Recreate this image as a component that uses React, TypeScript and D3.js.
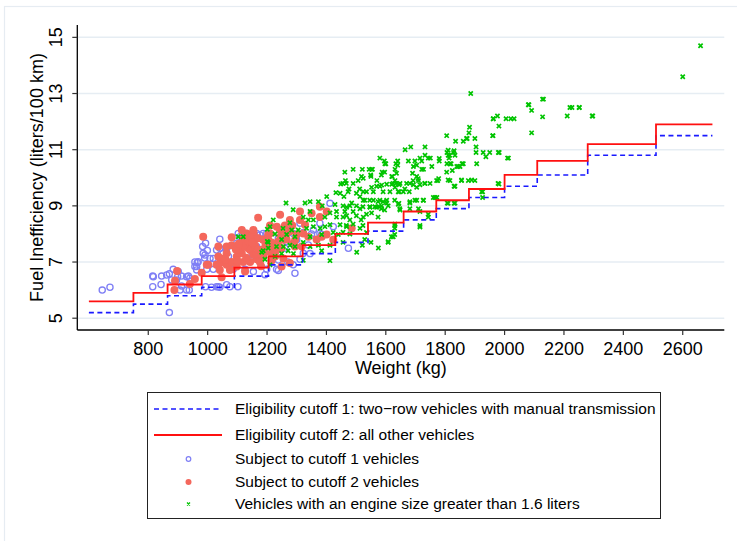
import React from "react";
import * as d3 from "d3";

const xTicks = [800, 1000, 1200, 1400, 1600, 1800, 2000, 2200, 2400, 2600];
const yTicks = [5, 7, 9, 11, 13, 15];

const weightBreaks = [600, 750, 865, 980, 1090, 1205, 1320, 1430, 1540, 1660, 1770, 1880, 2000, 2110, 2280, 2510, 2700];
const cutoff1 = [5.2, 5.5, 5.8, 6.1, 6.5, 6.9, 7.3, 7.7, 8.1, 8.5, 8.9, 9.3, 9.7, 10.1, 10.8, 11.5];
const cutoff2 = [5.6, 5.9, 6.2, 6.5, 6.8, 7.2, 7.6, 8.0, 8.4, 8.8, 9.2, 9.6, 10.1, 10.6, 11.2, 11.9];

const subjectCutoff1: [number, number][] = [
  [645,6.0],[671,6.1],[871,5.2],[815,6.5],[845,6.5],[815,6.12],[843,6.2],[871,6.58],[884,6.74],[895,6.36],[912,6.5],[935,6.5],[938,6.0],[907,6.0],[963,6.84],[965,6.98],[983,7.55],[993,7.67],[999,7.41],[990,7.14],[997,6.74],[993,6.12],[1019,7.13],[1019,6.74],[1036,6.12],[1041,7.49],[1041,7.81],[1052,7.3],[1064,7.49],[1069,6.96],[1086,6.74],[1102,6.12],[1098,7.67],[1103,8.02],[1131,8.02],[1126,6.74],[1154,6.66],[1187,8.02],[1199,7.79],[1165,7.55],[1238,6.7],[1260,7.49],[1288,6.9],[1294,6.6],[1288,8.02],[1339,7.61],[1378,8.02],[1423,8.26],[1412,9.09],[1474,7.49],
  [862,6.54],[879,6.36],[901,6.66],[940,6.42],[985,7.31],[1008,7.13],[968,7.01],[963,6.72],[1030,7.43],[1070,7.2],[1115,7.55],[1109,7.9],[1148,7.96],[1165,8.02],[1176,7.96],[1075,6.12],[1041,6.1],[1013,6.1],
  [1156,8.02],[1322,8.05],[1350,8.0],[1384,7.98],[1221,7.28],[1311,7.1],[1345,7.3],[1232,6.74],[1199,6.74],[1193,6.55],
  [957,7.0],[991,7.25],[1064,7.5],[1131,7.79],[1199,8.02],[1238,7.07],[1322,7.31],[1030,6.12],[1064,6.19],[929,6.0],[929,6.48],[957,6.84],[899,6.48],[912,6.15],
  [1238,7.85],[1266,7.73],[1300,7.79],[1277,8.32],[1311,8.38],[1356,8.14],[1378,8.38],[817,6.48],[1270,7.0],[1150,7.25],[1200,7.4]
];

const subjectCutoff2: [number, number][] = [
  [897,6.68],[890,6.33],[888,6.0],[940,6.22],[957,6.4],[980,6.62],[1002,6.9],[985,7.9],[1036,7.55],[1041,6.96],[1081,7.88],[1120,7.85],[1064,7.31],[1075,6.96],[1115,7.31],[1120,7.79],[1137,7.49],[1154,8.02],[1170,8.58],[1165,7.1],[1182,7.43],[1199,7.55],[1210,8.02],[1216,7.31],[1233,8.26],[1244,8.68],[1255,7.79],[1266,8.02],[1277,8.5],[1294,7.55],[1311,8.8],[1322,8.02],[1350,8.74],[1378,8.97],[1401,8.8],[1384,7.9],[1423,7.79],
  [1053,7.13],[1036,7.2],[1030,6.9],[1041,6.72],[1064,6.9],[1081,7.0],[1098,7.2],[1109,7.43],[1126,7.55],[1137,7.73],[1143,7.43],[1159,7.55],[1154,7.26],[1120,7.0],[1098,6.84],[1075,6.72],[1047,6.46],[997,6.9],[1176,7.43],[1187,7.2],[1176,7.0],[1143,7.0],[1126,6.66],[1204,7.79],[1187,7.79],[1165,7.85],[1115,8.14],[1131,8.02],[1154,8.08],[1064,7.55],[1081,7.6],[1143,7.9],
  [1154,8.14],[1170,7.85],[1159,7.6],[1187,7.8],[1204,7.98],[1165,7.3],[1193,7.35],[1221,7.55],[1238,7.73],[1266,7.8],[1249,7.5],[1227,7.2],[1255,7.13],[1289,7.67],[1300,7.98],[1277,8.1],[1244,8.14],[1210,8.3],[1311,8.5],[1328,8.33],[1339,7.9],[1317,7.55],[1249,6.84],[1277,6.97],[1367,7.8],[1401,7.98],[1485,8.2],[1378,8.6],
  [1095,7.45],[1105,7.65],[1130,7.15],[1150,7.7],[1170,7.45],[1195,7.6],[1215,7.7],[1230,7.4],[1245,7.9],[1260,8.3],[1285,8.3],[1295,7.8],[1215,7.05],[1180,6.85],[1100,7.05],[1060,7.1]
];

const largeEngine: [number, number][] = [
  [2660,14.7],[2600,13.6],[1886,13.0],[2128,12.8],[2082,12.6],[2091,12.4],[2220,12.5],[2227,12.5],[2251,12.5],[2128,12.17],[2211,12.2],[2297,12.2],[2005,12.1],[2021,12.1],[2032,12.1],[1976,12.2],[1962,12.1],[1981,11.84],[2091,11.6],[1882,11.8],[1880,11.6],[1872,11.4],[1900,11.4],[1861,11.3],[1961,11.5],[1835,11.3],[1805,11.5],[1904,11.1],[1904,10.9],[1928,10.9],[1950,10.9],[1979,10.9],[1937,10.75],[2010,10.7],[1830,10.96],[1833,10.8],[1810,10.98],[1810,10.8],[1813,10.7],[1780,10.69],[1780,10.6],[1755,10.4],[1732,11.1],[1732,10.8],[1743,10.7],[1750,10.7],[1715,10.7],[1721,10.6],[1727,10.3],[1721,10.3],[1698,10.6],[1704,10.45],[1684,11.1],[1665,11.0],[1676,10.6],[1693,10.4],[1690,10.16],[1704,10.05],[1634,10.5],[1631,10.3],[1636,10.16],[1622,10.04],[1600,10.5],[1595,10.6],[1580,10.7],[1585,10.1],[1596,10.2],[1544,10.3],[1555,10.3],[1550,10.05],[1518,10.05],[1570,9.9],[1569,9.7],[1580,9.7],[1558,9.5],[1535,9.5],[1591,9.5],[1614,9.5],[1625,9.8],[1634,9.8],[1645,9.75],[1645,9.5],[1659,9.5],[1670,9.8],[1681,9.8],[1679,9.5],[1693,9.75],[1710,9.9],[1715,9.75],[1732,9.8],[1749,9.8],[1775,9.9],[1766,9.3],[1727,9.2],[1698,9.2],[1681,9.1],[1644,9.09],[1647,8.9],[1630,9.2],[1603,9.2],[1603,9.1],[1580,9.2],[1563,8.97],[1546,8.97],[1546,9.2],[1529,9.2],[1523,8.97],[1535,8.7],[1577,8.97],[1585,8.9],[1596,8.85],[1517,8.5],[1523,8.3],[1535,8.05],[1529,7.8],[1521,7.6],[1550,7.7],[1575,7.5],[1630,8.3],[1630,8.2],[1630,7.98],[1619,7.9],[1608,7.7],[1710,8.9],[1715,8.3],[1743,8.7],[1772,9.3],[1807,9.1],[1833,9.1],[1833,9.7],[1855,9.9],[1878,9.9],[1900,9.9],[1923,9.5],[1926,9.3],[1978,9.8],[1816,10.5],[1850,10.4],[1839,10.4],[1861,10.5],[1805,10.2],[1816,9.9],
  [1597,10.5],[1462,10.2],[1490,10.3],[1521,10.3],[1552,10.3],[1549,10.1],[1524,9.98],[1507,9.9],[1588,10.2],[1620,10.05],[1640,10.6],[1640,10.45],[1455,9.8],[1467,9.8],[1476,9.6],[1490,9.8],[1459,9.33],[1473,9.5],[1501,9.45],[1512,9.6],[1524,9.5],[1552,9.66],[1586,9.74],[1603,9.77],[1620,9.77],[1631,9.9],[1631,9.66],[1648,9.8],[1642,9.5],[1664,9.6],[1692,9.9],[1709,9.97],[1704,9.66],[1731,9.8],[1513,9.33],[1524,9.2],[1558,9.2],[1574,9.15],[1591,9.15],[1501,9.0],[1479,9.0],[1456,9.0],[1462,8.8],[1490,8.8],[1513,8.9],[1547,8.95],[1569,8.95],[1586,9.0],[1608,9.0],[1642,9.06],[1681,9.15],[1704,9.2],[1726,9.2],[1760,9.3],[1771,9.9],[1778,9.97],[1648,8.85],[1681,8.9],[1715,8.8],[1456,8.6],[1479,8.5],[1501,8.65],[1524,8.6],[1467,8.3],[1490,8.35],[1513,8.2],[1456,8.06],[1574,8.6],[1552,8.75],[1743,8.6],[1715,8.25],[1631,8.35],[1608,7.72],[1625,7.9],[1456,7.7],
  [1448,9.78],[1464,9.9],[1432,9.47],[1446,9.45],[1401,9.33],[1373,9.15],[1345,9.15],[1328,9.1],[1264,9.1],[1288,8.86],[1345,8.8],[1386,9.0],[1429,9.05],[1434,8.8],[1468,8.95],[1485,9.1],[1412,8.75],[1395,8.6],[1434,8.6],[1468,8.65],[1221,8.5],[1277,8.4],[1322,8.6],[1339,8.5],[1356,8.5],[1210,8.26],[1227,8.0],[1254,8.2],[1266,7.98],[1283,8.14],[1305,8.14],[1333,8.2],[1356,8.26],[1379,8.2],[1395,8.26],[1412,8.33],[1446,8.33],[1468,8.26],[1479,8.0],[1423,8.05],[1384,7.98],[1440,7.98],[1345,7.9],[1294,7.9],[1249,7.8],[1204,7.7],[1204,7.5],[1232,7.55],[1255,7.55],[1277,7.6],[1294,7.55],[1322,7.7],[1345,7.55],[1373,7.6],[1384,7.4],[1412,7.6],[1289,7.3],[1249,7.3],[1271,7.4],[1182,7.35],[1193,7.1],[1227,7.2],[1322,7.06],[1412,7.05],[1502,7.35],[1210,6.9],
  [1103,7.9],[1120,7.9],[1201,8.17],[1201,7.73],[1187,7.4],
  [1982,10.9],[2013,10.7],[1981,9.78],[1926,9.5],[1855,9.92],[1889,9.92],[1830,9.7],[1810,9.92],[1810,9.09],[1830,9.09],[1906,10.5],[1844,10.4],[1857,10.5],[1824,10.26],[1806,10.5],[1820,10.5],[1806,10.9],[1828,10.9],[1815,10.8],[2080,12.6],[2252,12.5],[2295,12.2],[2131,12.8],[1962,12.1],[1960,11.5],[1874,11.4]
];

const legendLabels = [
  "Eligibility cutoff 1: two\u2212row vehicles with manual transmission",
  "Eligibility cutoff 2: all other vehicles",
  "Subject to cutoff 1 vehicles",
  "Subject to cutoff 2 vehicles",
  "Vehicles with an engine size greater than 1.6 liters",
];

const FONT = "'Liberation Sans', Arial, Helvetica, sans-serif";
const BLUE_LINE = "#1a1aff";
const RED_LINE = "#ff1010";
const BLUE_PT = "#7f7ff5";
const RED_PT = "#f4675c";
const GREEN_PT = "#00c400";

export default function App() {
  const W = 737, H = 541;
  const x = d3.scaleLinear().domain([561, 2740]).range([77.3, 724.3]);
  const y = d3.scaleLinear().domain([4.58, 15.44]).range([330, 25]);
  const [x0, x1] = x.range();
  const [yb, yt] = y.range();

  const stepLine = d3.line<[number, number]>()
    .x(d => x(d[0]))
    .y(d => y(d[1]))
    .curve(d3.curveStepAfter);
  const mk = (vals: number[]) => {
    const pts: [number, number][] = vals.map((v, i) => [weightBreaks[i], v]);
    pts.push([weightBreaks[weightBreaks.length - 1], vals[vals.length - 1]]);
    return stepLine(pts) || "";
  };

  const cross = "M-2.1,-2.1L2.1,2.1M-2.1,2.1L2.1,-2.1";
  const legRows = [409, 435, 459, 482, 504];

  return (
    <svg width={W} height={H} style={{ position: "absolute", left: 0, top: 0, background: "#fff" }} fontFamily={FONT}>
      <rect x={4.5} y={6.5} width={740} height={540} fill="#fff" stroke="#e6ecf2" strokeWidth={1.2} />
      {yTicks.map(t => (
        <line key={"g" + t} x1={x0} x2={x1} y1={y(t)} y2={y(t)} stroke="#e6edf3" strokeWidth={1.5} />
      ))}
      <g>
        {subjectCutoff1.map((d, i) => (
          <circle key={"b" + i} cx={x(d[0])} cy={y(d[1])} r={3.1} fill="none" stroke={BLUE_PT} strokeWidth={1.3} />
        ))}
      </g>
      <g>
        {subjectCutoff2.map((d, i) => (
          <circle key={"r" + i} cx={x(d[0])} cy={y(d[1])} r={4} fill={RED_PT} />
        ))}
      </g>
      <g>
        {largeEngine.map((d, i) => (
          <path key={"x" + i} d={cross} transform={`translate(${x(d[0])},${y(d[1])})`} stroke={GREEN_PT} strokeWidth={1.7} fill="none" />
        ))}
      </g>
      <path d={mk(cutoff1)} fill="none" stroke={BLUE_LINE} strokeWidth={1.6} strokeDasharray="5,3.5" />
      <path d={mk(cutoff2)} fill="none" stroke={RED_LINE} strokeWidth={1.8} />
      <line x1={x0} x2={x0} y1={yt} y2={yb} stroke="#000" strokeWidth={1.3} />
      <line x1={x0} x2={x1} y1={yb} y2={yb} stroke="#000" strokeWidth={1.3} />
      {yTicks.map(t => (
        <g key={"yt" + t}>
          <line x1={x0 - 5} x2={x0} y1={y(t)} y2={y(t)} stroke="#333" strokeWidth={1.2} />
          <text transform={`translate(62,${y(t)}) rotate(-90)`} textAnchor="middle" fontSize={18} fill="#000">{t}</text>
        </g>
      ))}
      {xTicks.map(t => (
        <g key={"xt" + t}>
          <line x1={x(t)} x2={x(t)} y1={yb} y2={yb + 5} stroke="#333" strokeWidth={1.2} />
          <text x={x(t)} y={355} textAnchor="middle" fontSize={18} fill="#000">{t}</text>
        </g>
      ))}
      <text transform={`translate(42.7,${(yt + yb) / 2}) rotate(-90)`} textAnchor="middle" fontSize={18} fill="#000">Fuel Inefficiency (liters/100 km)</text>
      <text x={(x0 + x1) / 2} y={374} textAnchor="middle" fontSize={18} fill="#000">Weight (kg)</text>
      <rect x={147.5} y={392.5} width={513} height={126} fill="#fff" stroke="#222" strokeWidth={1} />
      <line x1={154} x2={222} y1={legRows[0]} y2={legRows[0]} stroke={BLUE_LINE} strokeWidth={1.6} strokeDasharray="5,3.5" />
      <line x1={154} x2={222} y1={legRows[1]} y2={legRows[1]} stroke={RED_LINE} strokeWidth={1.8} />
      <circle cx={188.5} cy={legRows[2]} r={2.3} fill="none" stroke={BLUE_PT} strokeWidth={1.2} />
      <circle cx={188.5} cy={legRows[3]} r={3} fill={RED_PT} />
      <path d="M-1.5,-1.5L1.5,1.5M-1.5,1.5L1.5,-1.5" transform={`translate(188.5,${legRows[4]})`} stroke={GREEN_PT} strokeWidth={1.3} />
      {legendLabels.map((l, i) => (
        <text key={"l" + i} x={235} y={legRows[i]} dy="0.35em" fontSize={15.5} fill="#000">{l}</text>
      ))}
    </svg>
  );
}
